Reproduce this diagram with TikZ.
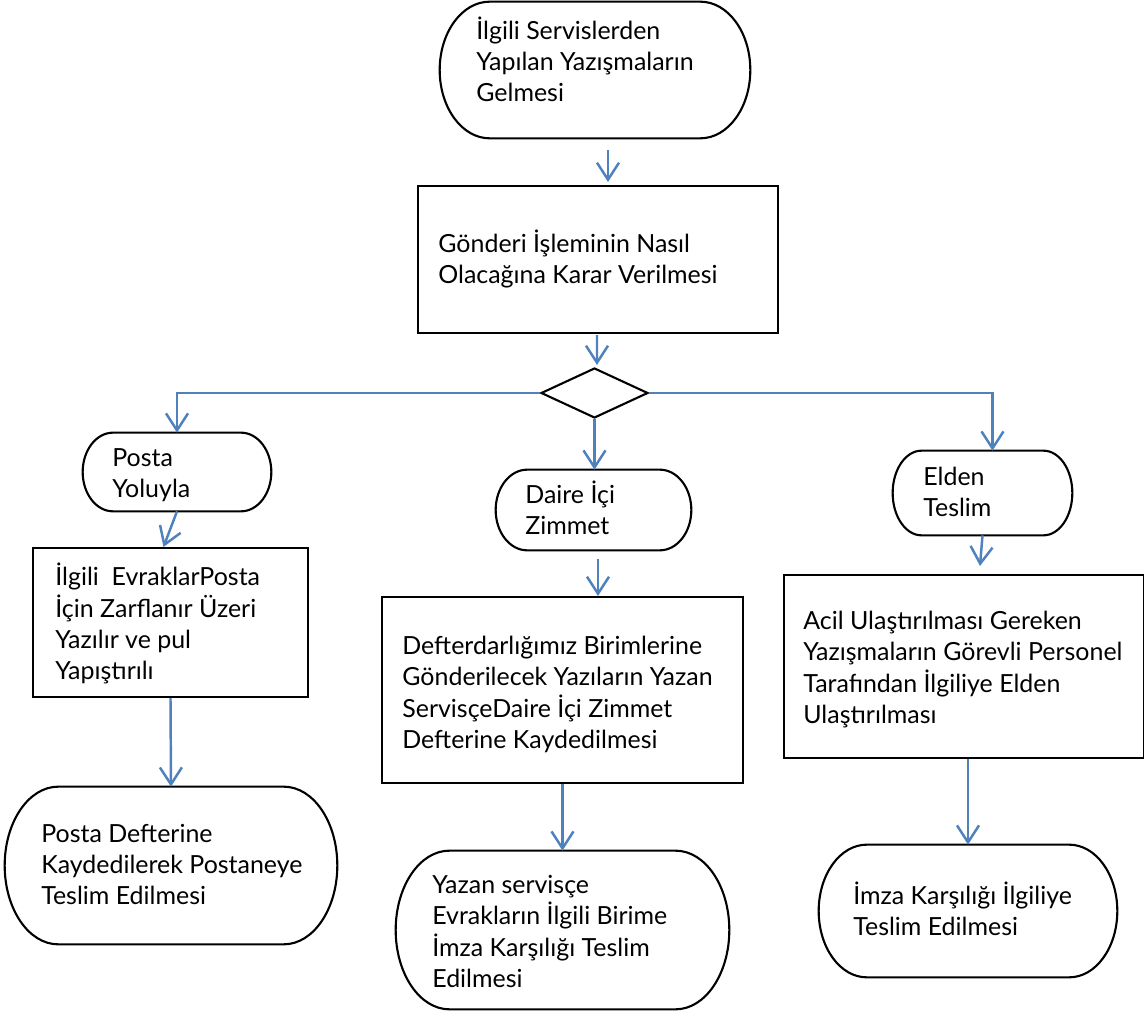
\documentclass[tikz,border=0pt]{standalone}
\usepackage{fontspec}
\setmainfont{Lato}
\usetikzlibrary{arrows.meta,shapes.geometric,calc}
\definecolor{arrblue}{RGB}{79,129,189}
\newcommand\termshape[1]{%
  \draw[line width=1.2pt] let \p1=(#1.north west), \p2=(#1.south east),
    \n1={0.161*(\x2-\x1)}, \n2={(\y1-\y2)/2} in
    (\x1+\n1,\y1) -- (\x2-\n1,\y1)
    arc[start angle=90,end angle=-90,x radius=\n1,y radius=\n2]
    -- (\x1+\n1,\y2)
    arc[start angle=270,end angle=90,x radius=\n1,y radius=\n2] -- cycle;}
\newcommand\mylines[1]{\begin{tabular}[t]{@{}l@{}}#1\end{tabular}}
\begin{document}
\begin{tikzpicture}[x=0.02cm,y=-0.02cm,
  box/.style={draw=black,line width=1.2pt,rectangle,inner sep=0pt},
  term/.style={rectangle,inner sep=0pt},
  txt/.style={anchor=base west,inner sep=0pt,font=\fontsize{14.2}{17.6}\selectfont},
  arr/.style={draw=arrblue,line width=1.4pt,-{Straight Barb[length=0.34cm,width=0.44cm,line width=1.4pt]}}]
\useasboundingbox[fill=white] (0,0) rectangle (1144,1013);

% shapes
\node[term,minimum width=6.2cm,minimum height=2.72cm] (top) at (595,70) {};
\node[box,minimum width=7.2cm,minimum height=2.94cm] (box2) at (598,259.5) {};
\node[draw=black,line width=1.2pt,diamond,aspect=2.14,inner sep=0pt,minimum width=2.14cm,minimum height=1cm] (d) at (594.5,393) {};
\node[term,minimum width=3.76cm,minimum height=1.56cm] (py) at (177,472) {};
\node[term,minimum width=3.9cm,minimum height=1.6cm] (daire) at (593.5,510) {};
\node[term,minimum width=3.58cm,minimum height=1.68cm] (elden) at (982.5,493) {};
\node[box,minimum width=5.5cm,minimum height=2.98cm] (pbox) at (170.5,622.5) {};
\node[box,minimum width=7.22cm,minimum height=3.72cm] (box3) at (562.5,690) {};
\node[box,minimum width=7.2cm,minimum height=3.66cm] (ebox) at (964,666.5) {};
\node[term,minimum width=6.64cm,minimum height=3.14cm] (pdef) at (171,865.5) {};
\node[term,minimum width=6.66cm,minimum height=3.16cm] (yazan) at (562.5,930) {};
\node[term,minimum width=5.96cm,minimum height=2.64cm] (imza) at (968,911) {};

\termshape{top}
\termshape{py}
\termshape{daire}
\termshape{elden}
\termshape{pdef}
\termshape{yazan}
\termshape{imza}

% texts
\node[txt] (topT) at (476,40) {\mylines{İlgili Servislerden\\Yapılan Yazışmaların\\Gelmesi}};
\node[txt] (box2T) at (438,253) {\mylines{Gönderi İşleminin Nasıl\\Olacağına Karar Verilmesi}};
\node[txt] (pyT) at (112,467) {\mylines{Posta\\Yoluyla}};
\node[txt] (daireT) at (525,504) {\mylines{Daire İçi\\Zimmet}};
\node[txt] (eldenT) at (923,486) {\mylines{Elden\\Teslim}};
\node[txt] (pboxT) at (55,586) {\mylines{İlgili~ EvraklarPosta\\İçin Zarflanır Üzeri\\Yazılır ve pul\\Yapıştırılı}};
\node[txt] (box3T) at (402,655) {\mylines{Defterdarlığımız Birimlerine\\Gönderilecek Yazıların Yazan\\ServisçeDaire İçi Zimmet\\Defterine Kaydedilmesi}};
\node[txt] (eboxT) at (803,630) {\mylines{Acil Ulaştırılması Gereken\\Yazışmaların Görevli Personel\\Tarafından İlgiliye Elden\\Ulaştırılması}};
\node[txt] (pdefT) at (41,843) {\mylines{Posta Defterine\\Kaydedilerek Postaneye\\Teslim Edilmesi}};
\node[txt] (yazanT) at (432,893) {\mylines{Yazan servisçe\\Evrakların İlgili Birime\\İmza Karşılığı Teslim\\Edilmesi}};
\node[txt] (imzaT) at (853,905) {\mylines{İmza Karşılığı İlgiliye\\Teslim Edilmesi}};

% connectors
\draw[arr] ($(top.south)+(13,12)$) -- ($(box2.north)+(10,-3)$);
\draw[arr] ($(box2.south)+(-1,1)$) -- ($(d.north)+(2.5,-2)$);
\draw[arr] (d.west) -| (py.north);
\draw[arr] (d.south) -- (d.south |- daire.north);
\draw[arr] (d.east) -| ($(elden.north)+(10,0)$);
\draw[arr] (py.south) -- ($(pbox.north)+(-7,0)$);
\draw[arr] (pbox.south) -- (pdef.north);
\draw[arr] ($(daire.south)+(4.5,9)$) -- ($(box3.north)+(35.5,0)$);
\draw[arr] (box3.south) -- (yazan.north);
\draw[arr] (elden.south) -- ($(ebox.north)+(16,-8)$);
\draw[arr] ($(ebox.south)+(4,0)$) -- (imza.north);
\end{tikzpicture}
\end{document}
